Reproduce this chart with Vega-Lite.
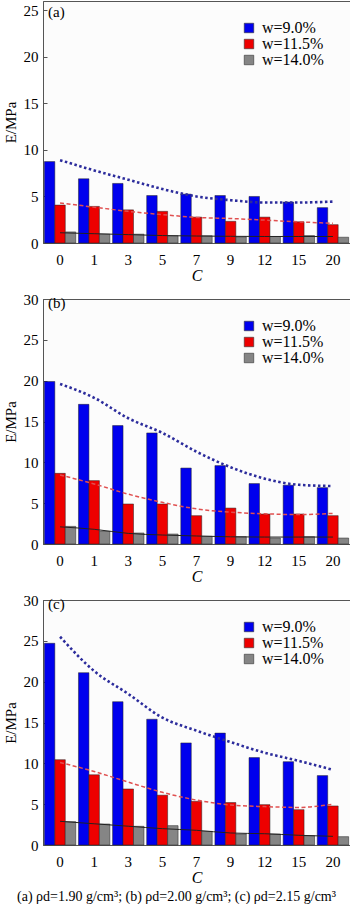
{
  "$schema": "https://vega.github.io/schema/vega-lite/v6.json",
  "padding": {"left": 2, "top": 0, "right": 1, "bottom": 0},
  "background": "white",
  "spacing": 7,
  "title": {"text": "(a) ρd=1.90 g/cm³; (b) ρd=2.00 g/cm³; (c) ρd=2.15 g/cm³", "orient": "bottom", "anchor": "middle", "frame": "bounds", "offset": 4, "font": "Times New Roman", "fontSize": 14, "fontWeight": "normal", "color": "#000"},
  "config": {
    "view": {"stroke": "#555", "strokeWidth": 1, "fill": "#fcfcfc"},
    "font": "Times New Roman",
    "axis": {"labelFont": "Times New Roman", "labelFontSize": 15, "labelColor": "#000", "titleFont": "Times New Roman", "titleFontSize": 15, "titleFontWeight": "normal", "titleColor": "#000", "domainColor": "#555", "tickColor": "#555", "grid": false},
    "axisX": {"ticks": false, "labelPadding": 9, "titlePadding": 0, "labelAngle": 0, "titleFontStyle": "italic", "titleFontSize": 16},
    "axisY": {"tickSize": -4, "labelPadding": 9, "titlePadding": 5},
    "legend": {"title": null, "symbolType": "square", "symbolSize": 90, "symbolStrokeWidth": 0.6, "symbolStrokeColor": "#333", "labelFont": "Times New Roman", "labelFontSize": 16, "labelColor": "#000", "rowPadding": 0, "labelOffset": 5},
    "title": {"font": "Times New Roman", "fontSize": 15, "fontWeight": "normal", "color": "#000"}
  },
  "resolve": {"legend": {"color": "independent"}, "scale": {"y": "independent"}},
  "datasets": {
    "bars": [
      {"p": "a", "C": 0, "w": "w=9.0%", "E": 8.75}, {"p": "a", "C": 0, "w": "w=11.5%", "E": 4.07}, {"p": "a", "C": 0, "w": "w=14.0%", "E": 1.19},
      {"p": "a", "C": 1, "w": "w=9.0%", "E": 6.9}, {"p": "a", "C": 1, "w": "w=11.5%", "E": 3.93}, {"p": "a", "C": 1, "w": "w=14.0%", "E": 0.95},
      {"p": "a", "C": 3, "w": "w=9.0%", "E": 6.4}, {"p": "a", "C": 3, "w": "w=11.5%", "E": 3.56}, {"p": "a", "C": 3, "w": "w=14.0%", "E": 0.95},
      {"p": "a", "C": 5, "w": "w=9.0%", "E": 5.1}, {"p": "a", "C": 5, "w": "w=11.5%", "E": 3.4}, {"p": "a", "C": 5, "w": "w=14.0%", "E": 0.78},
      {"p": "a", "C": 7, "w": "w=9.0%", "E": 5.25}, {"p": "a", "C": 7, "w": "w=11.5%", "E": 2.78}, {"p": "a", "C": 7, "w": "w=14.0%", "E": 0.78},
      {"p": "a", "C": 9, "w": "w=9.0%", "E": 5.1}, {"p": "a", "C": 9, "w": "w=11.5%", "E": 2.33}, {"p": "a", "C": 9, "w": "w=14.0%", "E": 0.66},
      {"p": "a", "C": 12, "w": "w=9.0%", "E": 5.0}, {"p": "a", "C": 12, "w": "w=11.5%", "E": 2.78}, {"p": "a", "C": 12, "w": "w=14.0%", "E": 0.7},
      {"p": "a", "C": 15, "w": "w=9.0%", "E": 4.4}, {"p": "a", "C": 15, "w": "w=11.5%", "E": 2.28}, {"p": "a", "C": 15, "w": "w=14.0%", "E": 0.8},
      {"p": "a", "C": 20, "w": "w=9.0%", "E": 3.8}, {"p": "a", "C": 20, "w": "w=11.5%", "E": 1.97}, {"p": "a", "C": 20, "w": "w=14.0%", "E": 0.62},
      {"p": "b", "C": 0, "w": "w=9.0%", "E": 19.9}, {"p": "b", "C": 0, "w": "w=11.5%", "E": 8.65}, {"p": "b", "C": 0, "w": "w=14.0%", "E": 2.16},
      {"p": "b", "C": 1, "w": "w=9.0%", "E": 17.1}, {"p": "b", "C": 1, "w": "w=11.5%", "E": 7.76}, {"p": "b", "C": 1, "w": "w=14.0%", "E": 1.55},
      {"p": "b", "C": 3, "w": "w=9.0%", "E": 14.5}, {"p": "b", "C": 3, "w": "w=11.5%", "E": 4.9}, {"p": "b", "C": 3, "w": "w=14.0%", "E": 1.35},
      {"p": "b", "C": 5, "w": "w=9.0%", "E": 13.6}, {"p": "b", "C": 5, "w": "w=11.5%", "E": 4.9}, {"p": "b", "C": 5, "w": "w=14.0%", "E": 1.22},
      {"p": "b", "C": 7, "w": "w=9.0%", "E": 9.3}, {"p": "b", "C": 7, "w": "w=11.5%", "E": 3.47}, {"p": "b", "C": 7, "w": "w=14.0%", "E": 0.94},
      {"p": "b", "C": 9, "w": "w=9.0%", "E": 9.6}, {"p": "b", "C": 9, "w": "w=11.5%", "E": 4.4}, {"p": "b", "C": 9, "w": "w=14.0%", "E": 0.9},
      {"p": "b", "C": 12, "w": "w=9.0%", "E": 7.4}, {"p": "b", "C": 12, "w": "w=11.5%", "E": 3.67}, {"p": "b", "C": 12, "w": "w=14.0%", "E": 0.73},
      {"p": "b", "C": 15, "w": "w=9.0%", "E": 7.2}, {"p": "b", "C": 15, "w": "w=11.5%", "E": 3.67}, {"p": "b", "C": 15, "w": "w=14.0%", "E": 0.9},
      {"p": "b", "C": 20, "w": "w=9.0%", "E": 6.9}, {"p": "b", "C": 20, "w": "w=11.5%", "E": 3.47}, {"p": "b", "C": 20, "w": "w=14.0%", "E": 0.73},
      {"p": "c", "C": 0, "w": "w=9.0%", "E": 24.7}, {"p": "c", "C": 0, "w": "w=11.5%", "E": 10.45}, {"p": "c", "C": 0, "w": "w=14.0%", "E": 2.86},
      {"p": "c", "C": 1, "w": "w=9.0%", "E": 21.1}, {"p": "c", "C": 1, "w": "w=11.5%", "E": 8.6}, {"p": "c", "C": 1, "w": "w=14.0%", "E": 2.57},
      {"p": "c", "C": 3, "w": "w=9.0%", "E": 17.55}, {"p": "c", "C": 3, "w": "w=11.5%", "E": 6.86}, {"p": "c", "C": 3, "w": "w=14.0%", "E": 2.29},
      {"p": "c", "C": 5, "w": "w=9.0%", "E": 15.4}, {"p": "c", "C": 5, "w": "w=11.5%", "E": 6.1}, {"p": "c", "C": 5, "w": "w=14.0%", "E": 2.37},
      {"p": "c", "C": 7, "w": "w=9.0%", "E": 12.5}, {"p": "c", "C": 7, "w": "w=11.5%", "E": 5.35}, {"p": "c", "C": 7, "w": "w=14.0%", "E": 1.67},
      {"p": "c", "C": 9, "w": "w=9.0%", "E": 13.7}, {"p": "c", "C": 9, "w": "w=11.5%", "E": 5.2}, {"p": "c", "C": 9, "w": "w=14.0%", "E": 1.35},
      {"p": "c", "C": 12, "w": "w=9.0%", "E": 10.7}, {"p": "c", "C": 12, "w": "w=11.5%", "E": 4.94}, {"p": "c", "C": 12, "w": "w=14.0%", "E": 1.35},
      {"p": "c", "C": 15, "w": "w=9.0%", "E": 10.2}, {"p": "c", "C": 15, "w": "w=11.5%", "E": 4.33}, {"p": "c", "C": 15, "w": "w=14.0%", "E": 1.14},
      {"p": "c", "C": 20, "w": "w=9.0%", "E": 8.5}, {"p": "c", "C": 20, "w": "w=11.5%", "E": 4.78}, {"p": "c", "C": 20, "w": "w=14.0%", "E": 1.02}
    ],
    "trend": [
      {"p": "a", "s": "b", "C": 0, "T": 8.9}, {"p": "a", "s": "b", "C": 1, "T": 7.8}, {"p": "a", "s": "b", "C": 3, "T": 6.8}, {"p": "a", "s": "b", "C": 5, "T": 5.8}, {"p": "a", "s": "b", "C": 7, "T": 5.0}, {"p": "a", "s": "b", "C": 9, "T": 4.6}, {"p": "a", "s": "b", "C": 12, "T": 4.35}, {"p": "a", "s": "b", "C": 15, "T": 4.35}, {"p": "a", "s": "b", "C": 20, "T": 4.45},
      {"p": "a", "s": "r", "C": 0, "T": 4.3}, {"p": "a", "s": "r", "C": 1, "T": 3.85}, {"p": "a", "s": "r", "C": 3, "T": 3.4}, {"p": "a", "s": "r", "C": 5, "T": 3.05}, {"p": "a", "s": "r", "C": 7, "T": 2.75}, {"p": "a", "s": "r", "C": 9, "T": 2.63}, {"p": "a", "s": "r", "C": 12, "T": 2.46}, {"p": "a", "s": "r", "C": 15, "T": 2.27}, {"p": "a", "s": "r", "C": 20, "T": 2.12},
      {"p": "a", "s": "g", "C": 0, "T": 1.1}, {"p": "a", "s": "g", "C": 1, "T": 1.0}, {"p": "a", "s": "g", "C": 3, "T": 0.9}, {"p": "a", "s": "g", "C": 5, "T": 0.8}, {"p": "a", "s": "g", "C": 7, "T": 0.75}, {"p": "a", "s": "g", "C": 9, "T": 0.72}, {"p": "a", "s": "g", "C": 12, "T": 0.7}, {"p": "a", "s": "g", "C": 15, "T": 0.7}, {"p": "a", "s": "g", "C": 20, "T": 0.7},
      {"p": "b", "s": "b", "C": 0, "T": 19.6}, {"p": "b", "s": "b", "C": 1, "T": 17.9}, {"p": "b", "s": "b", "C": 3, "T": 15.4}, {"p": "b", "s": "b", "C": 5, "T": 13.6}, {"p": "b", "s": "b", "C": 7, "T": 11.3}, {"p": "b", "s": "b", "C": 9, "T": 9.4}, {"p": "b", "s": "b", "C": 12, "T": 8.0}, {"p": "b", "s": "b", "C": 15, "T": 7.25}, {"p": "b", "s": "b", "C": 20, "T": 7.1},
      {"p": "b", "s": "r", "C": 0, "T": 8.45}, {"p": "b", "s": "r", "C": 1, "T": 7.35}, {"p": "b", "s": "r", "C": 3, "T": 6.1}, {"p": "b", "s": "r", "C": 5, "T": 5.1}, {"p": "b", "s": "r", "C": 7, "T": 4.3}, {"p": "b", "s": "r", "C": 9, "T": 3.9}, {"p": "b", "s": "r", "C": 12, "T": 3.7}, {"p": "b", "s": "r", "C": 15, "T": 3.6}, {"p": "b", "s": "r", "C": 20, "T": 3.75},
      {"p": "b", "s": "g", "C": 0, "T": 2.1}, {"p": "b", "s": "g", "C": 1, "T": 1.8}, {"p": "b", "s": "g", "C": 3, "T": 1.3}, {"p": "b", "s": "g", "C": 5, "T": 1.1}, {"p": "b", "s": "g", "C": 7, "T": 0.98}, {"p": "b", "s": "g", "C": 9, "T": 0.88}, {"p": "b", "s": "g", "C": 12, "T": 0.85}, {"p": "b", "s": "g", "C": 15, "T": 0.85}, {"p": "b", "s": "g", "C": 20, "T": 0.85},
      {"p": "c", "s": "b", "C": 0, "T": 25.5}, {"p": "c", "s": "b", "C": 1, "T": 21.3}, {"p": "c", "s": "b", "C": 3, "T": 18.5}, {"p": "c", "s": "b", "C": 5, "T": 15.6}, {"p": "c", "s": "b", "C": 7, "T": 14.0}, {"p": "c", "s": "b", "C": 9, "T": 12.6}, {"p": "c", "s": "b", "C": 12, "T": 11.3}, {"p": "c", "s": "b", "C": 15, "T": 10.3}, {"p": "c", "s": "b", "C": 20, "T": 9.2},
      {"p": "c", "s": "r", "C": 0, "T": 10.1}, {"p": "c", "s": "r", "C": 1, "T": 9.0}, {"p": "c", "s": "r", "C": 3, "T": 7.7}, {"p": "c", "s": "r", "C": 5, "T": 6.45}, {"p": "c", "s": "r", "C": 7, "T": 5.5}, {"p": "c", "s": "r", "C": 9, "T": 4.9}, {"p": "c", "s": "r", "C": 12, "T": 4.7}, {"p": "c", "s": "r", "C": 15, "T": 4.6}, {"p": "c", "s": "r", "C": 20, "T": 5.0},
      {"p": "c", "s": "g", "C": 0, "T": 2.9}, {"p": "c", "s": "g", "C": 1, "T": 2.6}, {"p": "c", "s": "g", "C": 3, "T": 2.3}, {"p": "c", "s": "g", "C": 5, "T": 2.0}, {"p": "c", "s": "g", "C": 7, "T": 1.8}, {"p": "c", "s": "g", "C": 9, "T": 1.47}, {"p": "c", "s": "g", "C": 12, "T": 1.38}, {"p": "c", "s": "g", "C": 15, "T": 1.19}, {"p": "c", "s": "g", "C": 20, "T": 1.06}
    ]
  },
  "vconcat": [
    {
      "width": 307, "height": 242,
      "title": {"text": "(a)", "anchor": "start", "frame": "group", "offset": -19, "dx": 5},
      "layer": [
        {"data": {"name": "bars"}, "transform": [{"filter": "datum.p === 'a'"}],
         "mark": {"type": "bar", "stroke": "#222", "strokeWidth": 0.5},
         "encoding": {
           "x": {"field": "C", "type": "ordinal", "scale": {"paddingInner": 0.08, "paddingOuter": 0.04}, "title": "C"},
           "xOffset": {"field": "w", "type": "nominal", "sort": ["w=9.0%", "w=11.5%", "w=14.0%"]},
           "y": {"field": "E", "type": "quantitative", "scale": {"domain": [0, 25]}, "axis": {"values": [0, 5, 10, 15, 20, 25], "title": "E/MPa"}},
           "color": {"field": "w", "type": "nominal", "scale": {"domain": ["w=9.0%", "w=11.5%", "w=14.0%"], "range": ["#0000ee", "#ee0000", "#858585"]}, "legend": {"orient": "none", "legendX": 198, "legendY": 19}}
         }},
        {"data": {"name": "trend"}, "transform": [{"filter": "datum.p === 'a' && datum.s === 'b'"}],
         "mark": {"type": "line", "color": "#2c2c9c", "strokeWidth": 2.6, "strokeDash": [2.5, 2.5], "interpolate": "monotone"},
         "encoding": {"x": {"field": "C", "type": "ordinal"}, "y": {"field": "T", "type": "quantitative"}}},
        {"data": {"name": "trend"}, "transform": [{"filter": "datum.p === 'a' && datum.s === 'r'"}],
         "mark": {"type": "line", "color": "#e05050", "strokeWidth": 1.5, "strokeDash": [4, 2.5], "interpolate": "monotone"},
         "encoding": {"x": {"field": "C", "type": "ordinal"}, "y": {"field": "T", "type": "quantitative"}}},
        {"data": {"name": "trend"}, "transform": [{"filter": "datum.p === 'a' && datum.s === 'g'"}],
         "mark": {"type": "line", "color": "#222", "strokeWidth": 1, "interpolate": "monotone"},
         "encoding": {"x": {"field": "C", "type": "ordinal"}, "y": {"field": "T", "type": "quantitative"}}}
      ]
    },
    {
      "width": 307, "height": 245,
      "title": {"text": "(b)", "anchor": "start", "frame": "group", "offset": -19, "dx": 5},
      "layer": [
        {"data": {"name": "bars"}, "transform": [{"filter": "datum.p === 'b'"}],
         "mark": {"type": "bar", "stroke": "#222", "strokeWidth": 0.5},
         "encoding": {
           "x": {"field": "C", "type": "ordinal", "scale": {"paddingInner": 0.08, "paddingOuter": 0.04}, "title": "C"},
           "xOffset": {"field": "w", "type": "nominal", "sort": ["w=9.0%", "w=11.5%", "w=14.0%"]},
           "y": {"field": "E", "type": "quantitative", "scale": {"domain": [0, 30]}, "axis": {"values": [0, 5, 10, 15, 20, 25, 30], "title": "E/MPa"}},
           "color": {"field": "w", "type": "nominal", "scale": {"domain": ["w=9.0%", "w=11.5%", "w=14.0%"], "range": ["#0000ee", "#ee0000", "#858585"]}, "legend": {"orient": "none", "legendX": 198, "legendY": 19}}
         }},
        {"data": {"name": "trend"}, "transform": [{"filter": "datum.p === 'b' && datum.s === 'b'"}],
         "mark": {"type": "line", "color": "#2c2c9c", "strokeWidth": 2.6, "strokeDash": [2.5, 2.5], "interpolate": "monotone"},
         "encoding": {"x": {"field": "C", "type": "ordinal"}, "y": {"field": "T", "type": "quantitative"}}},
        {"data": {"name": "trend"}, "transform": [{"filter": "datum.p === 'b' && datum.s === 'r'"}],
         "mark": {"type": "line", "color": "#e05050", "strokeWidth": 1.5, "strokeDash": [4, 2.5], "interpolate": "monotone"},
         "encoding": {"x": {"field": "C", "type": "ordinal"}, "y": {"field": "T", "type": "quantitative"}}},
        {"data": {"name": "trend"}, "transform": [{"filter": "datum.p === 'b' && datum.s === 'g'"}],
         "mark": {"type": "line", "color": "#222", "strokeWidth": 1, "interpolate": "monotone"},
         "encoding": {"x": {"field": "C", "type": "ordinal"}, "y": {"field": "T", "type": "quantitative"}}}
      ]
    },
    {
      "width": 307, "height": 245,
      "title": {"text": "(c)", "anchor": "start", "frame": "group", "offset": -19, "dx": 5},
      "layer": [
        {"data": {"name": "bars"}, "transform": [{"filter": "datum.p === 'c'"}],
         "mark": {"type": "bar", "stroke": "#222", "strokeWidth": 0.5},
         "encoding": {
           "x": {"field": "C", "type": "ordinal", "scale": {"paddingInner": 0.08, "paddingOuter": 0.04}, "title": "C"},
           "xOffset": {"field": "w", "type": "nominal", "sort": ["w=9.0%", "w=11.5%", "w=14.0%"]},
           "y": {"field": "E", "type": "quantitative", "scale": {"domain": [0, 30]}, "axis": {"values": [0, 5, 10, 15, 20, 25, 30], "title": "E/MPa"}},
           "color": {"field": "w", "type": "nominal", "scale": {"domain": ["w=9.0%", "w=11.5%", "w=14.0%"], "range": ["#0000ee", "#ee0000", "#858585"]}, "legend": {"orient": "none", "legendX": 198, "legendY": 19}}
         }},
        {"data": {"name": "trend"}, "transform": [{"filter": "datum.p === 'c' && datum.s === 'b'"}],
         "mark": {"type": "line", "color": "#2c2c9c", "strokeWidth": 2.6, "strokeDash": [2.5, 2.5], "interpolate": "monotone"},
         "encoding": {"x": {"field": "C", "type": "ordinal"}, "y": {"field": "T", "type": "quantitative"}}},
        {"data": {"name": "trend"}, "transform": [{"filter": "datum.p === 'c' && datum.s === 'r'"}],
         "mark": {"type": "line", "color": "#e05050", "strokeWidth": 1.5, "strokeDash": [4, 2.5], "interpolate": "monotone"},
         "encoding": {"x": {"field": "C", "type": "ordinal"}, "y": {"field": "T", "type": "quantitative"}}},
        {"data": {"name": "trend"}, "transform": [{"filter": "datum.p === 'c' && datum.s === 'g'"}],
         "mark": {"type": "line", "color": "#222", "strokeWidth": 1, "interpolate": "monotone"},
         "encoding": {"x": {"field": "C", "type": "ordinal"}, "y": {"field": "T", "type": "quantitative"}}}
      ]
    }
  ]
}
